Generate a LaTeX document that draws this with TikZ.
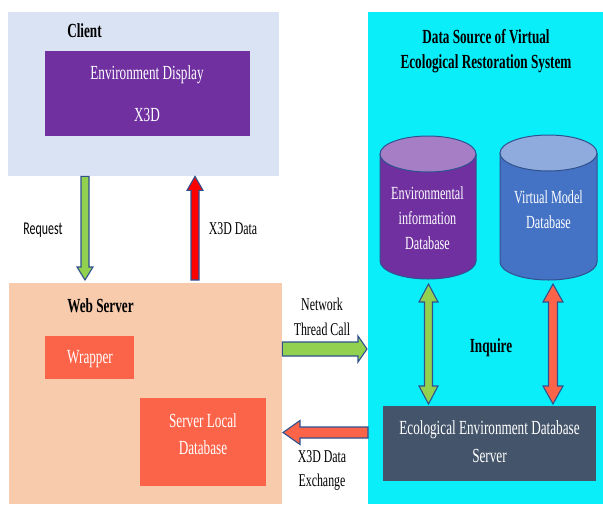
\documentclass[tikz,border=0pt]{standalone}
\usepackage{fontspec}
\setmainfont{Liberation Serif}[FakeStretch=0.66]
\newfontfamily\reqfont{Carlito}[FakeStretch=0.66]
\usetikzlibrary{calc}
\definecolor{clientbg}{HTML}{DAE3F3}
\definecolor{purp}{HTML}{7030A0}
\definecolor{purplight}{HTML}{A57EC6}
\definecolor{webbg}{HTML}{F8CBAD}
\definecolor{tomatobox}{HTML}{FC6449}
\definecolor{cyanbg}{HTML}{0AEEFA}
\definecolor{slate}{HTML}{44546A}
\definecolor{bluedb}{HTML}{4472C4}
\definecolor{bluelight}{HTML}{8FAADC}
\definecolor{greenar}{HTML}{92D050}
\definecolor{outl}{HTML}{2F528F}
\definecolor{redar}{HTML}{FF0000}
\tikzset{
  box/.style={draw=none, inner sep=0pt, anchor=north west},
  lbl/.style={anchor=base, inner sep=0pt, font=\fontsize{20}{22}\selectfont},
  wlbl/.style={lbl, text=white},
  blbl/.style={lbl, font=\fontsize{20}{22}\selectfont\bfseries},
  clbl/.style={anchor=base, inner sep=0pt, text=white, font=\fontsize{18.5}{20}\selectfont},
  albl/.style={anchor=base, inner sep=0pt, font=\fontsize{18}{20}\selectfont},
  blockar/.style={draw=outl, line width=1.1pt, line join=miter},
  cyl/.style={draw=outl, line width=1pt}
}
% single block arrow: style, start, end, shaft half width, head half width, head length
\newcommand\blockarrow[6]{%
  \coordinate (hb) at ($(#3)!#6!(#2)$);
  \draw[blockar,#1] ($(#2)!#4!90:(#3)$) -- ($(hb)!#4!90:(#3)$) -- ($(hb)!#5!90:(#3)$)
    -- (#3) -- ($(hb)!#5!-90:(#3)$) -- ($(hb)!#4!-90:(#3)$) -- ($(#2)!#4!-90:(#3)$) -- cycle;}
% double block arrow
\newcommand\dblarrow[6]{%
  \coordinate (hba) at ($(#2)!#6!(#3)$);
  \coordinate (hbb) at ($(#3)!#6!(#2)$);
  \draw[blockar,#1] (#2) -- ($(hba)!#5!90:(#3)$) -- ($(hba)!#4!90:(#3)$) -- ($(hbb)!#4!90:(#3)$)
    -- ($(hbb)!#5!90:(#3)$) -- (#3) -- ($(hbb)!#5!-90:(#3)$) -- ($(hbb)!#4!-90:(#3)$)
    -- ($(hba)!#4!-90:(#3)$) -- ($(hba)!#5!-90:(#3)$) -- cycle;}
% cylinder: name, centre x, top centre y, bottom centre y, rx, ry, body colour, top colour
\newcommand\dbcyl[8]{%
  \fill[#7] (#2-#5,#3) -- (#2-#5,#4) arc[start angle=180, end angle=360, x radius=#5, y radius=-#6] -- (#2+#5,#3) -- cycle;
  \draw[cyl] (#2-#5,#3) -- (#2-#5,#4) arc[start angle=180, end angle=360, x radius=#5, y radius=-#6] -- (#2+#5,#3);
  \draw[cyl, fill=#8] (#2,#3) ellipse[x radius=#5, y radius=#6];
  \coordinate (#1) at (#2,#3);}
\begin{document}
\begin{tikzpicture}[x=1pt, y=-1pt]
\useasboundingbox (0,0) rectangle (603,504);
\fill[white] (0,0) rectangle (603,504);
% panels
\node[box, fill=clientbg, minimum width=271pt, minimum height=164pt] (client) at (8,12) {};
\node[box, fill=webbg, minimum width=273pt, minimum height=221pt] (web) at (9,283) {};
\node[box, fill=cyanbg, minimum width=235pt, minimum height=492pt] (source) at (368,12) {};
% inner boxes
\node[box, fill=purp, minimum width=205pt, minimum height=85pt] (display) at (45,51) {};
\node[box, fill=tomatobox, minimum width=89pt, minimum height=43pt] (wrapper) at (45,336) {};
\node[box, fill=tomatobox, minimum width=126pt, minimum height=88pt] (sld) at (140,398) {};
\node[box, fill=slate, minimum width=213pt, minimum height=75pt] (eco) at (383,406) {};
% cylinders
\dbcyl{envdb}{428}{154}{261}{48}{18}{purp}{purplight}
\dbcyl{vmdb}{548.5}{153}{262}{48.5}{18}{bluedb}{bluelight}
% texts
\node[blbl] (tclient) at (84.5,37) {Client};
\node[wlbl] (tdisp) at (147,79) {Environment Display};
\node[wlbl] (tx3d) at (147,121) {X3D};
\node[blbl] (ttitle1) at (486,43) {Data Source of Virtual};
\node[blbl] (ttitle2) at (486,68) {Ecological Restoration System};
\node[clbl] (tenv1) at (427.5,199) {Environmental};
\node[clbl] (tenv2) at (427.5,224) {information};
\node[clbl] (tenv3) at (427.5,249) {Database};
\node[clbl] (tvm1) at (548.5,203) {Virtual Model};
\node[clbl] (tvm2) at (548.5,228) {Database};
\node[anchor=base, inner sep=0pt, font=\reqfont\fontsize{18}{20}\selectfont] (treq) at (43,234) {Request};
\node[albl] (tx3dd) at (233,234) {X3D Data};
\node[blbl] (tweb) at (100.5,312) {Web Server};
\node[wlbl] (twrap) at (90,363) {Wrapper};
\node[wlbl] (tsld1) at (203,427) {Server Local};
\node[wlbl] (tsld2) at (203,454) {Database};
\node[albl] (tnet1) at (322,310) {Network};
\node[albl] (tnet2) at (322,335) {Thread Call};
\node[albl] (texc1) at (322,462) {X3D Data};
\node[albl] (texc2) at (322,486) {Exchange};
\node[blbl] (tinq) at (491,352) {Inquire};
\node[wlbl] (teco1) at (489.5,434) {Ecological Environment Database};
\node[wlbl] (teco2) at (489.5,462) {Server};
% arrow end points
\coordinate (reqS) at (client.south -| 85,0);
\coordinate (reqE) at (85,280);
\coordinate (xS) at (195,280);
\coordinate (xE) at (client.south -| 195,0);
\coordinate (netS) at (web.east |- 0,349);
\coordinate (netE) at (367,349);
\coordinate (excS) at (source.west |- 0,432.5);
\coordinate (excE) at (283,432.5);
\coordinate (gS) at (428.5,284);
\coordinate (gE) at (428.5,404);
\coordinate (rS) at (553,284);
\coordinate (rE) at (553,404);
% arrows
\blockarrow{fill=greenar}{reqS}{reqE}{4pt}{8pt}{13pt}
\blockarrow{fill=redar}{xS}{xE}{4pt}{8pt}{14pt}
\blockarrow{fill=greenar}{netS}{netE}{7pt}{13pt}{9pt}
\blockarrow{fill=tomatobox}{excS}{excE}{5.5pt}{12pt}{17pt}
\dblarrow{fill=greenar}{gS}{gE}{4pt}{9.5pt}{18pt}
\dblarrow{fill=tomatobox}{rS}{rE}{4.5pt}{10pt}{18pt}
\end{tikzpicture}
\end{document}
